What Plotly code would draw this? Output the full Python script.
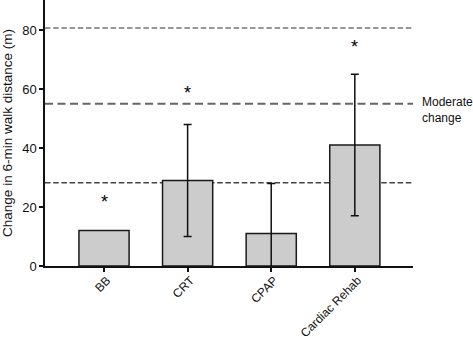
import plotly.graph_objects as go

# Mean change in 6-min walk distance by intervention, with 95% CI bounds
categories = ["BB", "CRT", "CPAP", "Cardiac Rehab"]
mean_change = [12, 29, 11, 41]
ci_upper = [None, 48, 28, 65]
ci_lower = [None, 10, -6, 17]
significant = [True, True, False, True]
star_y = [23, 60, None, 75.5]

# Reference thresholds for clinically meaningful change
threshold_values = [28.2, 55, 80.7]
threshold_label = "Moderate<br>change"
y_ticks = [0, 20, 40, 60, 80]

fig = go.Figure()
fig.add_trace(go.Bar(
    x=categories,
    y=mean_change,
    width=0.6,
    marker=dict(color="#cccccc", line=dict(color="#1a1a1a", width=1.5)),
    showlegend=False,
    hoverinfo="x+y",
))

# Confidence intervals only where they were reported
ci_rows = [(c, m, u, l) for c, m, u, l in zip(categories, mean_change, ci_upper, ci_lower)
           if u is not None]
fig.add_trace(go.Scatter(
    x=[r[0] for r in ci_rows],
    y=[r[1] for r in ci_rows],
    mode="markers",
    marker=dict(size=1, opacity=0),
    error_y=dict(
        type="data",
        symmetric=False,
        array=[r[2] - r[1] for r in ci_rows],
        arrayminus=[r[1] - r[3] for r in ci_rows],
        color="#111111",
        thickness=1.5,
        width=4,
    ),
    showlegend=False,
    hoverinfo="skip",
))

# Threshold lines: short dashes for outer lines, longer for the moderate one
dash_styles = [
    dict(dash="5.5px,2.7px", width=1.5, color="#444444"),
    dict(dash="8px,4.5px", width=2, color="#666666"),
    dict(dash="5.5px,2.7px", width=1.5, color="#777777"),
]
for val, st in zip(threshold_values, dash_styles):
    fig.add_shape(
        type="line", xref="paper", yref="y",
        x0=0, x1=1, y0=val, y1=val,
        line=st, layer="below",
    )

fig.add_annotation(
    xref="paper", yref="y", x=1, y=threshold_values[1],
    text=threshold_label, showarrow=False,
    xanchor="left", yanchor="top", xshift=7, yshift=11, align="left",
    font=dict(size=12, color="#111111"),
)

for cat, sig, sy in zip(categories, significant, star_y):
    if sig:
        fig.add_annotation(
            x=cat, y=sy, text="*", showarrow=False,
            font=dict(size=18, color="#000000"), yshift=-4,
        )

fig.update_layout(
    width=473, height=341,
    margin=dict(l=45, r=60, t=0, b=75),
    plot_bgcolor="white", paper_bgcolor="white",
    font=dict(family="Liberation Sans, Arial, sans-serif", size=12, color="#111111"),
)
fig.update_xaxes(
    range=[-0.706, 3.696],
    automargin=False,
    showline=True, linecolor="#111111", linewidth=1.5,
    ticks="outside", ticklen=4, tickcolor="#111111", tickwidth=1.5,
    tickangle=-45, tickfont=dict(size=12), ticklabelstandoff=-3, ticklabelshift=3,
    showgrid=False, zeroline=False,
)
fig.update_yaxes(
    range=[0, 90.2],
    automargin=False,
    tickvals=y_ticks,
    showline=True, linecolor="#111111", linewidth=1.5,
    ticks="outside", ticklen=4, tickcolor="#111111", tickwidth=1.5,
    tickfont=dict(size=13),
    showgrid=False, zeroline=False,
    title=dict(text="Change in 6-min walk distance (m)", font=dict(size=13.5), standoff=6),
)

fig.write_html("out.html")
